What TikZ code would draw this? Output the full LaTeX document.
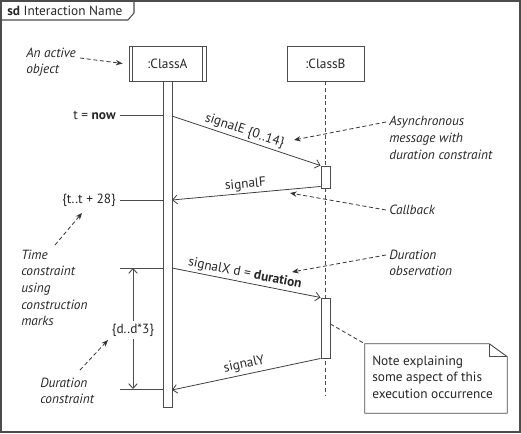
\documentclass[tikz,border=0pt]{standalone}
\usepackage{fontspec}
\setmainfont{PT Sans}
\usetikzlibrary{arrows.meta,calc}
\begin{document}
\begin{tikzpicture}[x=0.75pt,y=-0.75pt,
  every node/.style={font=\fontsize{10}{12.5}\selectfont, text=black!85, inner sep=0pt},
  ln/.style={draw=black!70, line width=0.7pt},
  obj/.style={ln, fill=white, minimum width=57.75pt, minimum height=26.25pt},
  actbar/.style={ln, fill=white, minimum width=6.75pt},
  msg/.style={draw=black!75, line width=0.6pt, -{Straight Barb[length=3.5pt,width=6.5pt]}},
  ann/.style={draw=black!80, line width=0.6pt, dash pattern=on 3pt off 2pt, -{Stealth[length=5pt,width=4pt]}},
  annot/.style={font=\fontsize{10}{12.5}\selectfont\itshape, align=left, anchor=west},
  lbl/.style={midway, above, sloped, inner sep=1.5pt}
]
\useasboundingbox (0,0) rectangle (521,433);
% frame
\draw[draw=black!70, line width=0.9pt] (1,1) rectangle (520,432);
\draw[draw=black!70, line width=0.8pt] (1,20) -- (128,20) -- (134,13) -- (134,1);
\node[anchor=west] (title) at (7,10.5) {\textbf{sd} Interaction Name};

% lifeline B
\node[obj] (classB) at (325.5,63.5) {:ClassB};
\coordinate (endB) at (325.5,395);
\draw[ln, dash pattern=on 3pt off 2pt] (classB.south) -- (endB);
\node[actbar, minimum height=16.5pt] (exB1) at (325.5,177) {};
\node[actbar, minimum height=45pt] (exB2) at (325.5,328) {};

% lifeline A
\node[actbar, minimum height=244.5pt] (actA) at (167.5,244) {};
\node[obj] (classA) at (167.5,63.5) {:ClassA};
\draw[ln] ($(classA.north west)+(4,0)$) -- ($(classA.south west)+(4,0)$);
\draw[ln] ($(classA.north east)+(-4,0)$) -- ($(classA.south east)+(-4,0)$);

% messages
\coordinate (eS) at (172,116);
\draw[msg] (eS) -- node[lbl, pos=0.47]{signalE \{0..14\}} (exB1.north west);
\coordinate (fE) at (172,200);
\draw[msg] ($(exB1.south west)+(0,-2)$) -- node[lbl]{signalF} (fE);
\coordinate (xS) at (172,268);
\draw[msg] (xS) -- node[lbl, pos=0.48]{signalX d = \textbf{duration}} (exB2.north west);
\coordinate (yE) at (172,390);
\draw[msg] (exB2.south west) -- node[lbl, inner sep=2.5pt]{signalY} (yE);

% time marks
\node[anchor=east] (tnow) at (116,115) {t = \textbf{now}};
\draw[ln] ($(tnow.east)+(4,0)$) -- (tnow.east -| actA.west);
\node[anchor=east] (tt) at (116,200) {\{t..t + 28\}};
\draw[ln] ($(tt.east)+(4,0)$) -- (tt.east -| actA.west);

% duration constraint
\coordinate (d1) at (120,268);
\coordinate (d2) at (120,389);
\draw[ln] (d1) -- (d1 -| actA.west);
\draw[ln] (d2) -- (d2 -| actA.west);
\coordinate (v1) at (133,268);
\coordinate (v2) at (133,389);
\node[fill=white, inner sep=2pt] (dd) at (133,330) {\{d..d*3\}};
\draw[ln, -{Straight Barb[length=3.5pt,width=6.5pt]}] (dd) -- (v1);
\draw[ln, -{Straight Barb[length=3.5pt,width=6.5pt]}] (dd) -- (v2);

% annotations
\node[annot] (active) at (26,62) {An active\\object};
\draw[ann] ($(active.east)+(4,-4)$) -- ($(classA.west)+(-6,0)$);

\node[annot] (async) at (389,138) {Asynchronous\\message with\\duration constraint};
\coordinate (asyncT) at (294,140);
\draw[ann] ($(async.west)+(-3,-16)$) -- (asyncT);

\node[annot] (callback) at (389,210) {Callback};
\coordinate (callT) at (290,193);
\draw[ann] ($(callback.west)+(-3,0)$) -- (callT);

\node[annot] (durobs) at (389,263) {Duration\\observation};
\coordinate (durT) at (292,272);
\draw[ann] ($(durobs.west)+(-3,-8)$) -- (durT);

\node[annot] (timec) at (21,288) {Time\\constraint\\using\\construction\\marks};
\coordinate (timeS) at (55,245);
\coordinate (timeT) at (82,213);
\draw[ann] (timeS) -- (timeT);

\node[annot] (durc) at (40,391) {Duration\\constraint};
\coordinate (durcS) at (80,370);
\coordinate (durcT) at (108,340);
\draw[ann] (durcS) -- (durcT);

% note
\node[minimum width=106.5pt, minimum height=51.75pt] (note) at (436,378.5) {};
\draw[ln, fill=white] (note.north west) -- ($(note.north east)+(-18,0)$) -- ($(note.north east)+(0,13)$) -- (note.south east) -- (note.south west) -- cycle;
\draw[ln] ($(note.north east)+(-18,0)$) -- ($(note.north east)+(-18,13)$) -- ($(note.north east)+(0,13)$);
\node[anchor=west, align=left] (notet) at (372,377) {Note explaining\\some aspect of this\\execution occurrence};
\draw[ln, dash pattern=on 3pt off 2pt] ($(exB2.east)+(0,-4)$) -- (note.north west);
\end{tikzpicture}
\end{document}
